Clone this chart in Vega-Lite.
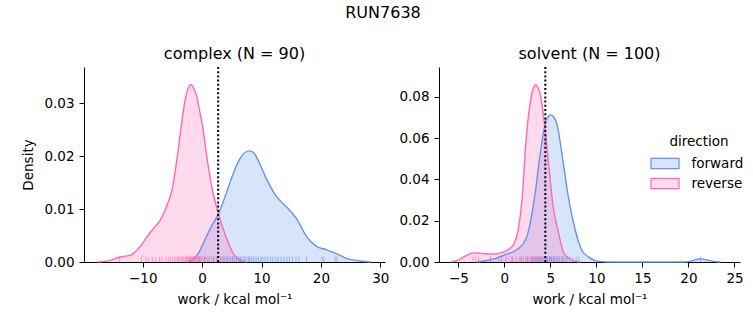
{
  "$schema": "https://vega.github.io/schema/vega-lite/v6.json",
  "background": "white",
  "padding": {"left": 21, "right": 5, "top": 5, "bottom": 5},
  "title": {"text": "RUN7638", "anchor": "middle", "fontSize": 16, "fontWeight": "normal", "offset": 25, "color": "black"},
  "datasets": {
    "kde": [
      {"p": "complex", "g": "forward", "w": -2.5, "y": 0},
      {"p": "complex", "g": "forward", "w": -1.5, "y": 0.0005},
      {"p": "complex", "g": "forward", "w": -0.5, "y": 0.0019},
      {"p": "complex", "g": "forward", "w": 0.5, "y": 0.0043},
      {"p": "complex", "g": "forward", "w": 1.5, "y": 0.0066},
      {"p": "complex", "g": "forward", "w": 2.7, "y": 0.009},
      {"p": "complex", "g": "forward", "w": 4.0, "y": 0.0128},
      {"p": "complex", "g": "forward", "w": 5.1, "y": 0.0163},
      {"p": "complex", "g": "forward", "w": 6.2, "y": 0.0192},
      {"p": "complex", "g": "forward", "w": 7.2, "y": 0.0207},
      {"p": "complex", "g": "forward", "w": 8.0, "y": 0.021},
      {"p": "complex", "g": "forward", "w": 8.8, "y": 0.0205},
      {"p": "complex", "g": "forward", "w": 9.6, "y": 0.0188},
      {"p": "complex", "g": "forward", "w": 10.8, "y": 0.0158},
      {"p": "complex", "g": "forward", "w": 12.5, "y": 0.0124},
      {"p": "complex", "g": "forward", "w": 14.4, "y": 0.0102},
      {"p": "complex", "g": "forward", "w": 15.9, "y": 0.0082},
      {"p": "complex", "g": "forward", "w": 17.6, "y": 0.0048},
      {"p": "complex", "g": "forward", "w": 19.2, "y": 0.003},
      {"p": "complex", "g": "forward", "w": 21.0, "y": 0.0023},
      {"p": "complex", "g": "forward", "w": 22.6, "y": 0.0016},
      {"p": "complex", "g": "forward", "w": 24.3, "y": 0.0007},
      {"p": "complex", "g": "forward", "w": 26.6, "y": 0.0002},
      {"p": "complex", "g": "forward", "w": 28.5, "y": 0},
      {"p": "complex", "g": "reverse", "w": -17.5, "y": 0},
      {"p": "complex", "g": "reverse", "w": -15.5, "y": 0.0003},
      {"p": "complex", "g": "reverse", "w": -14.0, "y": 0.0009},
      {"p": "complex", "g": "reverse", "w": -13.0, "y": 0.0011},
      {"p": "complex", "g": "reverse", "w": -12.0, "y": 0.0013},
      {"p": "complex", "g": "reverse", "w": -11.0, "y": 0.0022},
      {"p": "complex", "g": "reverse", "w": -10.0, "y": 0.0036},
      {"p": "complex", "g": "reverse", "w": -9.0, "y": 0.0052},
      {"p": "complex", "g": "reverse", "w": -8.0, "y": 0.0066},
      {"p": "complex", "g": "reverse", "w": -7.0, "y": 0.008},
      {"p": "complex", "g": "reverse", "w": -6.0, "y": 0.0105},
      {"p": "complex", "g": "reverse", "w": -5.0, "y": 0.014},
      {"p": "complex", "g": "reverse", "w": -4.3, "y": 0.019},
      {"p": "complex", "g": "reverse", "w": -3.6, "y": 0.025},
      {"p": "complex", "g": "reverse", "w": -2.8, "y": 0.031},
      {"p": "complex", "g": "reverse", "w": -2.3, "y": 0.033},
      {"p": "complex", "g": "reverse", "w": -1.9, "y": 0.0335},
      {"p": "complex", "g": "reverse", "w": -1.4, "y": 0.0328},
      {"p": "complex", "g": "reverse", "w": -0.9, "y": 0.0313},
      {"p": "complex", "g": "reverse", "w": -0.5, "y": 0.029},
      {"p": "complex", "g": "reverse", "w": 0.1, "y": 0.0255},
      {"p": "complex", "g": "reverse", "w": 0.9, "y": 0.019},
      {"p": "complex", "g": "reverse", "w": 1.7, "y": 0.0138},
      {"p": "complex", "g": "reverse", "w": 2.7, "y": 0.0093},
      {"p": "complex", "g": "reverse", "w": 4.0, "y": 0.0048},
      {"p": "complex", "g": "reverse", "w": 5.3, "y": 0.0015},
      {"p": "complex", "g": "reverse", "w": 6.3, "y": 0.0004},
      {"p": "complex", "g": "reverse", "w": 7.5, "y": 0},
      {"p": "solvent", "g": "forward", "w": -3.0, "y": 0},
      {"p": "solvent", "g": "forward", "w": -2.0, "y": 0.0006},
      {"p": "solvent", "g": "forward", "w": -1.0, "y": 0.0016},
      {"p": "solvent", "g": "forward", "w": 0.0, "y": 0.0034},
      {"p": "solvent", "g": "forward", "w": 1.0, "y": 0.005},
      {"p": "solvent", "g": "forward", "w": 1.6, "y": 0.0068},
      {"p": "solvent", "g": "forward", "w": 2.1, "y": 0.0092},
      {"p": "solvent", "g": "forward", "w": 2.5, "y": 0.013},
      {"p": "solvent", "g": "forward", "w": 2.8, "y": 0.0187},
      {"p": "solvent", "g": "forward", "w": 3.35, "y": 0.0333},
      {"p": "solvent", "g": "forward", "w": 3.9, "y": 0.0526},
      {"p": "solvent", "g": "forward", "w": 4.45, "y": 0.0671},
      {"p": "solvent", "g": "forward", "w": 4.75, "y": 0.0703},
      {"p": "solvent", "g": "forward", "w": 5.05, "y": 0.0712},
      {"p": "solvent", "g": "forward", "w": 5.35, "y": 0.0703},
      {"p": "solvent", "g": "forward", "w": 5.7, "y": 0.0671},
      {"p": "solvent", "g": "forward", "w": 6.3, "y": 0.051},
      {"p": "solvent", "g": "forward", "w": 6.95, "y": 0.0316},
      {"p": "solvent", "g": "forward", "w": 7.7, "y": 0.0155},
      {"p": "solvent", "g": "forward", "w": 8.4, "y": 0.0058},
      {"p": "solvent", "g": "forward", "w": 9.1, "y": 0.0026},
      {"p": "solvent", "g": "forward", "w": 9.8, "y": 0.0008},
      {"p": "solvent", "g": "forward", "w": 10.6, "y": 0.0002},
      {"p": "solvent", "g": "forward", "w": 11.5, "y": 0.00003},
      {"p": "solvent", "g": "forward", "w": 12.5, "y": 0},
      {"p": "solvent", "g": "forward", "w": 19.5, "y": 0},
      {"p": "solvent", "g": "forward", "w": 20.3, "y": 0.0005},
      {"p": "solvent", "g": "forward", "w": 21.0, "y": 0.0013},
      {"p": "solvent", "g": "forward", "w": 21.4, "y": 0.0015},
      {"p": "solvent", "g": "forward", "w": 21.9, "y": 0.0011},
      {"p": "solvent", "g": "forward", "w": 22.6, "y": 0.0004},
      {"p": "solvent", "g": "forward", "w": 23.5, "y": 0},
      {"p": "solvent", "g": "reverse", "w": -5.8, "y": 0},
      {"p": "solvent", "g": "reverse", "w": -5.0, "y": 0.0009},
      {"p": "solvent", "g": "reverse", "w": -4.2, "y": 0.003},
      {"p": "solvent", "g": "reverse", "w": -3.3, "y": 0.0044},
      {"p": "solvent", "g": "reverse", "w": -2.5, "y": 0.0042},
      {"p": "solvent", "g": "reverse", "w": -1.5, "y": 0.0038},
      {"p": "solvent", "g": "reverse", "w": -0.8, "y": 0.004},
      {"p": "solvent", "g": "reverse", "w": 0.0, "y": 0.005},
      {"p": "solvent", "g": "reverse", "w": 0.6, "y": 0.0065},
      {"p": "solvent", "g": "reverse", "w": 1.0, "y": 0.0085},
      {"p": "solvent", "g": "reverse", "w": 1.5, "y": 0.0155},
      {"p": "solvent", "g": "reverse", "w": 1.95, "y": 0.0316},
      {"p": "solvent", "g": "reverse", "w": 2.3, "y": 0.0558},
      {"p": "solvent", "g": "reverse", "w": 2.8, "y": 0.0768},
      {"p": "solvent", "g": "reverse", "w": 3.1, "y": 0.0835},
      {"p": "solvent", "g": "reverse", "w": 3.4, "y": 0.0857},
      {"p": "solvent", "g": "reverse", "w": 3.7, "y": 0.084},
      {"p": "solvent", "g": "reverse", "w": 4.0, "y": 0.079},
      {"p": "solvent", "g": "reverse", "w": 4.35, "y": 0.0671},
      {"p": "solvent", "g": "reverse", "w": 4.8, "y": 0.0478},
      {"p": "solvent", "g": "reverse", "w": 5.3, "y": 0.027},
      {"p": "solvent", "g": "reverse", "w": 5.9, "y": 0.0139},
      {"p": "solvent", "g": "reverse", "w": 6.4, "y": 0.005},
      {"p": "solvent", "g": "reverse", "w": 7.0, "y": 0.0018},
      {"p": "solvent", "g": "reverse", "w": 7.6, "y": 0.0004},
      {"p": "solvent", "g": "reverse", "w": 8.3, "y": 0}
    ],
    "rug": [
      {"p": "complex", "g": "reverse", "w": -13.9}, {"p": "complex", "g": "reverse", "w": -10.2}, {"p": "complex", "g": "reverse", "w": -9.5}, {"p": "complex", "g": "reverse", "w": -9.1},
      {"p": "complex", "g": "reverse", "w": -8.4}, {"p": "complex", "g": "reverse", "w": -7.9}, {"p": "complex", "g": "reverse", "w": -7.2}, {"p": "complex", "g": "reverse", "w": -6.8},
      {"p": "complex", "g": "reverse", "w": -6.1}, {"p": "complex", "g": "reverse", "w": -5.7}, {"p": "complex", "g": "reverse", "w": -5.3}, {"p": "complex", "g": "reverse", "w": -4.9},
      {"p": "complex", "g": "reverse", "w": -4.6}, {"p": "complex", "g": "reverse", "w": -4.2}, {"p": "complex", "g": "reverse", "w": -4.0}, {"p": "complex", "g": "reverse", "w": -3.8},
      {"p": "complex", "g": "reverse", "w": -3.5}, {"p": "complex", "g": "reverse", "w": -3.3}, {"p": "complex", "g": "reverse", "w": -3.1}, {"p": "complex", "g": "reverse", "w": -2.9},
      {"p": "complex", "g": "reverse", "w": -2.7}, {"p": "complex", "g": "reverse", "w": -2.6}, {"p": "complex", "g": "reverse", "w": -2.4}, {"p": "complex", "g": "reverse", "w": -2.3},
      {"p": "complex", "g": "reverse", "w": -2.1}, {"p": "complex", "g": "reverse", "w": -2.0}, {"p": "complex", "g": "reverse", "w": -1.9}, {"p": "complex", "g": "reverse", "w": -1.8},
      {"p": "complex", "g": "reverse", "w": -1.6}, {"p": "complex", "g": "reverse", "w": -1.5}, {"p": "complex", "g": "reverse", "w": -1.4}, {"p": "complex", "g": "reverse", "w": -1.2},
      {"p": "complex", "g": "reverse", "w": -1.1}, {"p": "complex", "g": "reverse", "w": -1.0}, {"p": "complex", "g": "reverse", "w": -0.8}, {"p": "complex", "g": "reverse", "w": -0.7},
      {"p": "complex", "g": "reverse", "w": -0.5}, {"p": "complex", "g": "reverse", "w": -0.3}, {"p": "complex", "g": "reverse", "w": -0.2}, {"p": "complex", "g": "reverse", "w": 0.0},
      {"p": "complex", "g": "reverse", "w": 0.3}, {"p": "complex", "g": "reverse", "w": 0.6}, {"p": "complex", "g": "reverse", "w": 0.9}, {"p": "complex", "g": "reverse", "w": 1.2},
      {"p": "complex", "g": "reverse", "w": 1.6}, {"p": "complex", "g": "reverse", "w": 2.0}, {"p": "complex", "g": "reverse", "w": 2.5}, {"p": "complex", "g": "reverse", "w": 3.1},
      {"p": "complex", "g": "reverse", "w": 3.6}, {"p": "complex", "g": "reverse", "w": 4.3}, {"p": "complex", "g": "reverse", "w": 5.1}, {"p": "complex", "g": "reverse", "w": 6.4},
      {"p": "complex", "g": "forward", "w": -0.5}, {"p": "complex", "g": "forward", "w": 0.4}, {"p": "complex", "g": "forward", "w": 1.2}, {"p": "complex", "g": "forward", "w": 1.9},
      {"p": "complex", "g": "forward", "w": 2.5}, {"p": "complex", "g": "forward", "w": 3.0}, {"p": "complex", "g": "forward", "w": 3.4}, {"p": "complex", "g": "forward", "w": 3.8},
      {"p": "complex", "g": "forward", "w": 4.1}, {"p": "complex", "g": "forward", "w": 4.5}, {"p": "complex", "g": "forward", "w": 4.8}, {"p": "complex", "g": "forward", "w": 5.2},
      {"p": "complex", "g": "forward", "w": 5.5}, {"p": "complex", "g": "forward", "w": 5.8}, {"p": "complex", "g": "forward", "w": 6.1}, {"p": "complex", "g": "forward", "w": 6.4},
      {"p": "complex", "g": "forward", "w": 6.7}, {"p": "complex", "g": "forward", "w": 7.0}, {"p": "complex", "g": "forward", "w": 7.2}, {"p": "complex", "g": "forward", "w": 7.5},
      {"p": "complex", "g": "forward", "w": 7.8}, {"p": "complex", "g": "forward", "w": 8.0}, {"p": "complex", "g": "forward", "w": 8.3}, {"p": "complex", "g": "forward", "w": 8.6},
      {"p": "complex", "g": "forward", "w": 8.9}, {"p": "complex", "g": "forward", "w": 9.2}, {"p": "complex", "g": "forward", "w": 9.5}, {"p": "complex", "g": "forward", "w": 9.9},
      {"p": "complex", "g": "forward", "w": 10.2}, {"p": "complex", "g": "forward", "w": 10.6}, {"p": "complex", "g": "forward", "w": 11.0}, {"p": "complex", "g": "forward", "w": 11.5},
      {"p": "complex", "g": "forward", "w": 11.9}, {"p": "complex", "g": "forward", "w": 12.4}, {"p": "complex", "g": "forward", "w": 12.8}, {"p": "complex", "g": "forward", "w": 13.3},
      {"p": "complex", "g": "forward", "w": 13.8}, {"p": "complex", "g": "forward", "w": 14.3}, {"p": "complex", "g": "forward", "w": 14.7}, {"p": "complex", "g": "forward", "w": 15.2},
      {"p": "complex", "g": "forward", "w": 15.8}, {"p": "complex", "g": "forward", "w": 16.3}, {"p": "complex", "g": "forward", "w": 17.6}, {"p": "complex", "g": "forward", "w": 20.2},
      {"p": "complex", "g": "forward", "w": 20.5}, {"p": "complex", "g": "forward", "w": 22.4}, {"p": "complex", "g": "forward", "w": 22.7},
      {"p": "solvent", "g": "reverse", "w": -3.4}, {"p": "solvent", "g": "reverse", "w": -3.1}, {"p": "solvent", "g": "reverse", "w": -2.8}, {"p": "solvent", "g": "reverse", "w": -1.5},
      {"p": "solvent", "g": "reverse", "w": -0.6}, {"p": "solvent", "g": "reverse", "w": 0.2}, {"p": "solvent", "g": "reverse", "w": 0.8}, {"p": "solvent", "g": "reverse", "w": 1.3},
      {"p": "solvent", "g": "reverse", "w": 1.6}, {"p": "solvent", "g": "reverse", "w": 1.9}, {"p": "solvent", "g": "reverse", "w": 2.1}, {"p": "solvent", "g": "reverse", "w": 2.3},
      {"p": "solvent", "g": "reverse", "w": 2.5}, {"p": "solvent", "g": "reverse", "w": 2.6}, {"p": "solvent", "g": "reverse", "w": 2.8}, {"p": "solvent", "g": "reverse", "w": 2.9},
      {"p": "solvent", "g": "reverse", "w": 3.0}, {"p": "solvent", "g": "reverse", "w": 3.1}, {"p": "solvent", "g": "reverse", "w": 3.2}, {"p": "solvent", "g": "reverse", "w": 3.3},
      {"p": "solvent", "g": "reverse", "w": 3.4}, {"p": "solvent", "g": "reverse", "w": 3.5}, {"p": "solvent", "g": "reverse", "w": 3.6}, {"p": "solvent", "g": "reverse", "w": 3.7},
      {"p": "solvent", "g": "reverse", "w": 3.8}, {"p": "solvent", "g": "reverse", "w": 3.9}, {"p": "solvent", "g": "reverse", "w": 4.0}, {"p": "solvent", "g": "reverse", "w": 4.1},
      {"p": "solvent", "g": "reverse", "w": 4.2}, {"p": "solvent", "g": "reverse", "w": 4.4}, {"p": "solvent", "g": "reverse", "w": 4.5}, {"p": "solvent", "g": "reverse", "w": 4.7},
      {"p": "solvent", "g": "reverse", "w": 4.9}, {"p": "solvent", "g": "reverse", "w": 5.1}, {"p": "solvent", "g": "reverse", "w": 5.4}, {"p": "solvent", "g": "reverse", "w": 5.8},
      {"p": "solvent", "g": "reverse", "w": 6.3},
      {"p": "solvent", "g": "forward", "w": -1.5}, {"p": "solvent", "g": "forward", "w": -0.3}, {"p": "solvent", "g": "forward", "w": 0.9}, {"p": "solvent", "g": "forward", "w": 1.8},
      {"p": "solvent", "g": "forward", "w": 2.5}, {"p": "solvent", "g": "forward", "w": 3.0}, {"p": "solvent", "g": "forward", "w": 3.3}, {"p": "solvent", "g": "forward", "w": 3.6},
      {"p": "solvent", "g": "forward", "w": 3.8}, {"p": "solvent", "g": "forward", "w": 4.0}, {"p": "solvent", "g": "forward", "w": 4.2}, {"p": "solvent", "g": "forward", "w": 4.4},
      {"p": "solvent", "g": "forward", "w": 4.6}, {"p": "solvent", "g": "forward", "w": 4.7}, {"p": "solvent", "g": "forward", "w": 4.9}, {"p": "solvent", "g": "forward", "w": 5.0},
      {"p": "solvent", "g": "forward", "w": 5.1}, {"p": "solvent", "g": "forward", "w": 5.3}, {"p": "solvent", "g": "forward", "w": 5.4}, {"p": "solvent", "g": "forward", "w": 5.5},
      {"p": "solvent", "g": "forward", "w": 5.7}, {"p": "solvent", "g": "forward", "w": 5.8}, {"p": "solvent", "g": "forward", "w": 6.0}, {"p": "solvent", "g": "forward", "w": 6.2},
      {"p": "solvent", "g": "forward", "w": 6.4}, {"p": "solvent", "g": "forward", "w": 6.6}, {"p": "solvent", "g": "forward", "w": 6.8}, {"p": "solvent", "g": "forward", "w": 7.1},
      {"p": "solvent", "g": "forward", "w": 7.4}, {"p": "solvent", "g": "forward", "w": 7.8}, {"p": "solvent", "g": "forward", "w": 8.1}, {"p": "solvent", "g": "forward", "w": 21.3}
    ],
    "dg": [
      {"p": "complex", "w": 2.7},
      {"p": "solvent", "w": 4.45}
    ]
  },
  "spacing": 54,
  "bounds": "flush",
  "hconcat": [
    {
      "width": 301,
      "height": 195,
      "title": {"text": "complex (N = 90)"},
      "layer": [
        {
          "data": {"name": "kde"},
          "transform": [{"filter": "datum.p === 'complex'"}],
          "mark": {"type": "area", "fillOpacity": 0.25, "interpolate": "monotone"},
          "encoding": {
            "x": {"field": "w", "type": "quantitative", "scale": {"domain": [-19.9, 30.8], "nice": false, "zero": false}, "axis": {"values": [-10, 0, 10, 20, 30], "title": "work / kcal mol⁻¹"}},
            "y": {"field": "y", "type": "quantitative", "stack": null, "scale": {"domain": [0, 0.03686], "nice": false}, "axis": {"values": [0, 0.01, 0.02, 0.03], "format": ".2f", "title": "Density"}},
            "color": {
              "field": "g", "type": "nominal",
              "scale": {"domain": ["forward", "reverse"], "range": ["#6495ED", "#FF69B4"]},
              "legend": {
                "title": "direction",
                "orient": "none",
                "legendX": 570,
                "legendY": 68,
                "symbolType": "M-1.4,-0.52L1.4,-0.52L1.4,0.52L-1.4,0.52Z",
                "symbolSize": 400,
                "labelOffset": 15.5,
                "rowPadding": 1,
                "titleAnchor": "middle",
                "titleAlign": "center",
                "titlePadding": 4,
                "encode": {
                  "symbols": {"update": {"fillOpacity": {"value": 0.25}, "stroke": {"scale": "color", "field": "value"}, "strokeWidth": {"value": 1.2}}}
                }
              }
            }
          }
        },
        {
          "data": {"name": "kde"},
          "transform": [{"filter": "datum.p === 'complex'"}],
          "mark": {"type": "line", "strokeWidth": 1.4, "interpolate": "monotone"},
          "encoding": {
            "x": {"field": "w", "type": "quantitative"},
            "y": {"field": "y", "type": "quantitative"},
            "color": {"field": "g", "type": "nominal"}
          }
        },
        {
          "data": {"name": "rug"},
          "transform": [{"filter": "datum.p === 'complex'"}],
          "mark": {"type": "tick", "orient": "vertical", "size": 5.5, "thickness": 1, "opacity": 0.6, "yOffset": -2.75},
          "encoding": {
            "x": {"field": "w", "type": "quantitative"},
            "y": {"datum": 0},
            "color": {"field": "g", "type": "nominal"}
          }
        },
        {
          "data": {"name": "dg"},
          "transform": [{"filter": "datum.p === 'complex'"}],
          "mark": {"type": "rule", "strokeDash": [2, 2.2], "strokeWidth": 2, "color": "black"},
          "encoding": {"x": {"field": "w", "type": "quantitative"}}
        }
      ]
    },
    {
      "width": 301,
      "height": 195,
      "title": {"text": "solvent (N = 100)"},
      "layer": [
        {
          "data": {"name": "kde"},
          "transform": [{"filter": "datum.p === 'solvent'"}],
          "mark": {"type": "area", "fillOpacity": 0.25, "interpolate": "monotone"},
          "encoding": {
            "x": {"field": "w", "type": "quantitative", "scale": {"domain": [-7.1, 25.6], "nice": false, "zero": false}, "axis": {"values": [-5, 0, 5, 10, 15, 20, 25], "title": "work / kcal mol⁻¹"}},
            "y": {"field": "y", "type": "quantitative", "stack": null, "scale": {"domain": [0, 0.0944], "nice": false}, "axis": {"values": [0, 0.02, 0.04, 0.06, 0.08], "format": ".2f", "title": null}},
            "color": {"field": "g", "type": "nominal"}
          }
        },
        {
          "data": {"name": "kde"},
          "transform": [{"filter": "datum.p === 'solvent'"}],
          "mark": {"type": "line", "strokeWidth": 1.4, "interpolate": "monotone"},
          "encoding": {
            "x": {"field": "w", "type": "quantitative"},
            "y": {"field": "y", "type": "quantitative"},
            "color": {"field": "g", "type": "nominal"}
          }
        },
        {
          "data": {"name": "rug"},
          "transform": [{"filter": "datum.p === 'solvent'"}],
          "mark": {"type": "tick", "orient": "vertical", "size": 5.5, "thickness": 1, "opacity": 0.6, "yOffset": -2.75},
          "encoding": {
            "x": {"field": "w", "type": "quantitative"},
            "y": {"datum": 0},
            "color": {"field": "g", "type": "nominal"}
          }
        },
        {
          "data": {"name": "dg"},
          "transform": [{"filter": "datum.p === 'solvent'"}],
          "mark": {"type": "rule", "strokeDash": [2, 2.2], "strokeWidth": 2, "color": "black"},
          "encoding": {"x": {"field": "w", "type": "quantitative"}}
        }
      ]
    }
  ],
  "config": {
    "font": "DejaVu Sans",
    "view": {"stroke": null},
    "title": {"fontSize": 16, "fontWeight": "normal", "color": "black", "offset": 4},
    "axis": {
      "grid": false,
      "domainColor": "black",
      "tickColor": "black",
      "labelColor": "black",
      "titleColor": "black",
      "labelFontSize": 13.5,
      "titleFontSize": 13.5,
      "titleFontWeight": "normal",
      "tickSize": 5,
      "labelPadding": 4,
      "labelFlush": false,
      "labelOverlap": false,
      "titlePadding": 8
    },
    "axisY": {"titlePadding": 8, "labelPadding": 5},
    "legend": {
      "titleFontSize": 13.5,
      "labelFontSize": 13.5,
      "titleFontWeight": "normal",
      "titleColor": "black",
      "labelColor": "black",
      "padding": 0
    }
  }
}
